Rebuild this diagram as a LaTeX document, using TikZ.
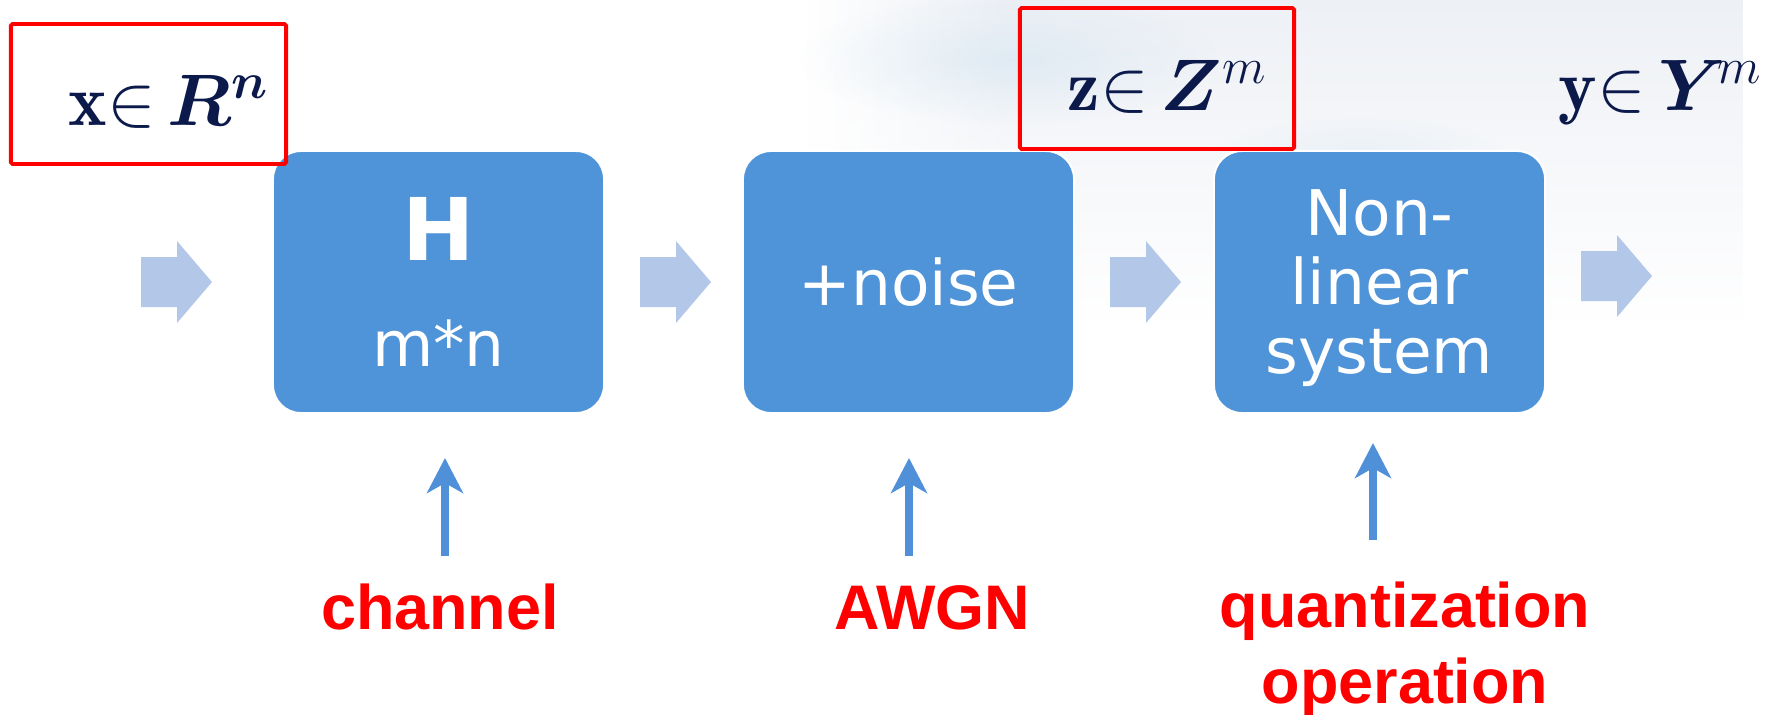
\documentclass[tikz,border=0pt]{standalone}
\usepackage{fontspec}
\usepackage{bm}
\usetikzlibrary{arrows.meta, positioning, fadings}
\newfontfamily\boxfont{DejaVu Sans}
\newfontfamily\labfont{Liberation Sans}
\definecolor{boxblue}{HTML}{4F93D8}
\definecolor{flowblue}{HTML}{B3C7E8}
\definecolor{upblue}{HTML}{4F90D9}
\definecolor{mynavy}{HTML}{0C1A4B}
\definecolor{cloudgray}{HTML}{EDF0F5}
\definecolor{cloudblue}{HTML}{CFE3F0}
\tikzfading[name=fade down, top color=transparent!0, bottom color=transparent!100]
\tikzfading[name=fuzzy blob, inner color=transparent!0, outer color=transparent!100]
\tikzset{
  stage/.style={rectangle, rounded corners=0.28cm, fill=boxblue, draw=white, line width=0.6pt,
    minimum width=3.31cm, minimum height=2.62cm, text=white, align=center, inner sep=0pt,
    font=\boxfont\fontsize{17.9pt}{19.7pt}\selectfont},
  redframe/.style={draw=red, line width=1.1pt, rounded corners=0.5pt, inner sep=0pt},
  mathlabel/.style={anchor=base west, inner sep=0pt, text=mynavy, font=\huge},
  redlabel/.style={text=red, inner sep=0pt, align=center,
    font=\labfont\bfseries\fontsize{17.9pt}{21.6pt}\selectfont},
  uparrow/.style={upblue, line width=2pt, -{Stealth[length=0.35cm, width=0.36cm, inset=0.1cm]}},
}
\begin{document}
\begin{tikzpicture}[x=0.01cm, y=-0.01cm]
  \useasboundingbox (0,0) rectangle (1781,714);

  % faint backdrop, top right
  \shade[left color=white, right color=cloudgray, path fading=fade down] (800,0) rectangle (1000,330);
  \fill[cloudgray, path fading=fade down] (1000,0) rectangle (1743,330);
  \fill[cloudblue, opacity=0.5, path fading=fuzzy blob] (1010,60) ellipse (210 and 65);
  \fill[cloudblue, opacity=0.35, path fading=fuzzy blob] (1360,160) ellipse (150 and 45);

  % flow arrows
  \foreach \bx/\by in {141/282, 640/282, 1110/282, 1581/276}
    \fill[flowblue] (\bx,\by-25) -- ++(36,0) -- ++(0,-16) -- (\bx+71,\by)
      -- (\bx+36,\by+41) -- ++(0,-16) -- (\bx,\by+25) -- cycle;

  \node[stage] (chan) at (438.5,282) {{\bfseries\fontsize{24.6pt}{30pt}\selectfont H}\\[10.5pt]m*n};
  \node[stage] (noise) at (908.5,282) {+noise};
  \node[stage] (quant) at (1379.5,282) {\rule{0pt}{16.5pt}Non-\\linear\\system};

  \node[redframe, minimum width=2.75cm, minimum height=1.40cm] (xframe) at (148.5,94) {};
  \node[redframe, minimum width=2.74cm, minimum height=1.41cm] (zframe) at (1157,78.5) {};

  \node[mathlabel] (xin) at (68,125) {$\mathbf{x}{\in}\,\bm{R}^{\bm{n}}$};
  \node[mathlabel] (zin) at (1067,110) {$\mathbf{z}{\in}\,\bm{Z}^{m}$};
  \node[mathlabel] (yin) at (1558,110) {$\mathbf{y}{\in}\,\bm{Y}^{\!m}$};

  \node[redlabel, anchor=base] (lchan) at (440,629) {channel};
  \node[redlabel, anchor=base] (lawgn) at (932,629) {AWGN};
  \node[redlabel, anchor=north] (lquant) at (1405,581) {quantization\\operation};

  \foreach \nm/\px/\tipy/\taily in {1/445/458/556, 2/909/458/556, 3/1373/443/540} {
    \coordinate (tip\nm) at (\px,\tipy);
    \coordinate (tail\nm) at (\px,\taily);
    \draw[uparrow] (tail\nm) -- (tip\nm);
  }
\end{tikzpicture}
\end{document}
